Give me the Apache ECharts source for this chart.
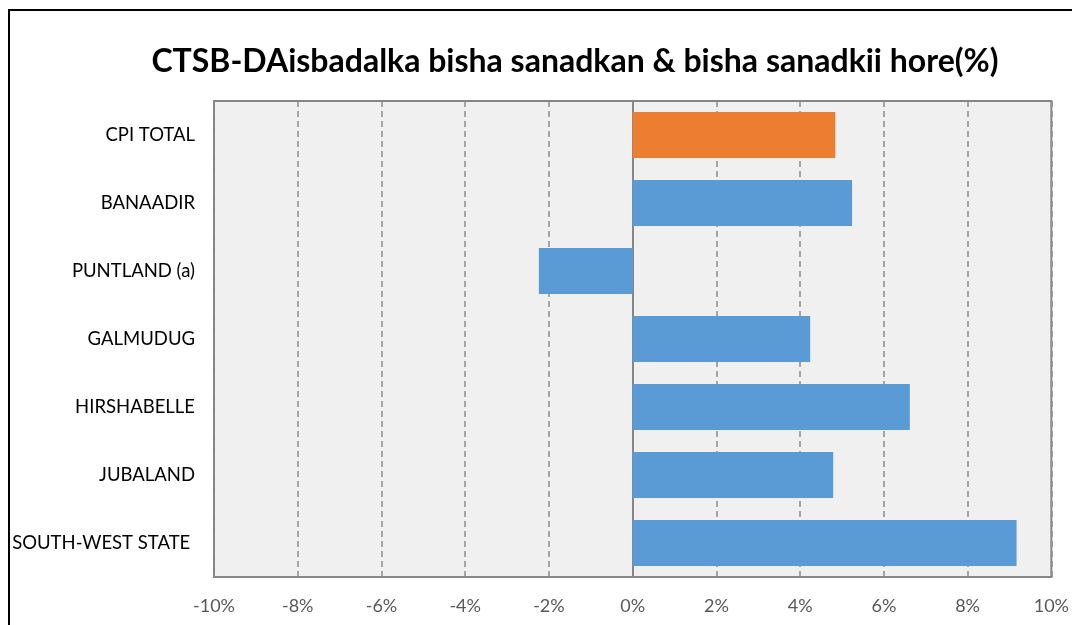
<!DOCTYPE html>
<html>
<head>
<meta charset="utf-8">
<script src="https://cdn.jsdelivr.net/npm/echarts@6/dist/echarts.min.js"></script>
<style>
  html, body { margin: 0; padding: 0; background: #fff; }
  #main { width: 1072px; height: 625px; }
</style>
</head>
<body>
<div id="main"></div>
<script>
// categories top to bottom
var regions = ['CPI TOTAL', 'BANAADIR', 'PUNTLAND (a)', 'GALMUDUG', 'HIRSHABELLE', 'JUBALAND', 'SOUTH-WEST STATE '];
var changePct = [4.84, 5.24, -2.24, 4.24, 6.62, 4.79, 9.17];
var barColors = ['#ED7D31', '#5B9BD5', '#5B9BD5', '#5B9BD5', '#5B9BD5', '#5B9BD5', '#5B9BD5'];

var myChart = echarts.init(document.getElementById('main'));

myChart.setOption({
  animation: false,
  title: {
    text: 'CTSB-DAisbadalka bisha sanadkan & bisha sanadkii hore(%)',
    left: 570,
    textAlign: 'center',
    top: 41,
    textStyle: { fontFamily: 'Lato', fontSize: 32, fontWeight: 'bold', color: '#000' }
  },
  graphic: [{
    type: 'rect',
    shape: { x: 9, y: 10, width: 1200, height: 800 },
    style: { fill: 'none', stroke: '#000', lineWidth: 2 },
    silent: true
  }],
  grid: {
    left: 214, right: 17, top: 101, bottom: 48,
    show: true,
    backgroundColor: '#F0F0F0',
    borderColor: '#868686',
    borderWidth: 2
  },
  xAxis: {
    type: 'value',
    min: -10, max: 10, interval: 2,
    axisLine: { show: false },
    axisTick: { show: false },
    axisLabel: {
      formatter: '{value}%', color: '#595959', fontFamily: 'Lato', fontSize: 18, margin: 20
    },
    splitLine: { lineStyle: { color: '#8C8C8C', type: [6, 4], width: 1.5 } }
  },
  yAxis: {
    type: 'category',
    inverse: true,
    data: regions,
    axisLine: { onZero: true, lineStyle: { color: '#868686', width: 2 } },
    axisTick: { show: false },
    axisLabel: {
      color: '#000', fontFamily: 'Lato', fontSize: 18.5, margin: 19
    }
  },
  series: [{
    type: 'bar',
    data: changePct.map(function (v, i) {
      return { value: v, itemStyle: { color: barColors[i] } };
    }),
    barCategoryGap: '32%'
  }]
});
</script>
</body>
</html>
